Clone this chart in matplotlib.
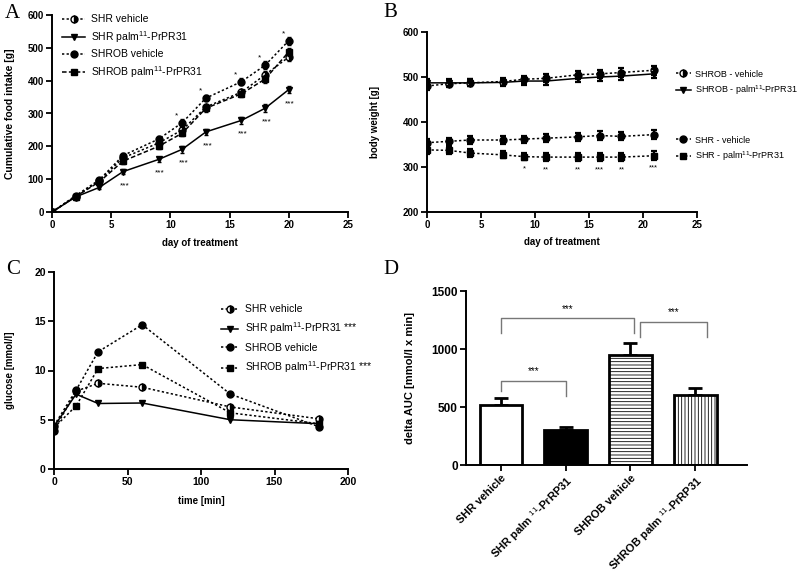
import matplotlib
matplotlib.use("Agg")
import matplotlib.pyplot as plt

plt.rcParams['font.family'] = ['Liberation Sans', 'DejaVu Sans']
plt.rcParams['mathtext.fontset'] = 'custom'
plt.rcParams['mathtext.rm'] = 'Liberation Sans'
plt.rcParams['mathtext.it'] = 'Liberation Sans'
plt.rcParams['hatch.linewidth'] = 0.6

# ---- data ----
# A: cumulative food intake
days_a = [0, 2, 4, 6, 9, 11, 13, 16, 18, 20]
shr_veh_a = [0, 47, 95, 165, 210, 250, 320, 365, 418, 472]
shr_palm_a = [0, 46, 75, 123, 160, 191, 244, 279, 316, 373]
shrob_veh_a = [0, 50, 98, 172, 222, 272, 347, 397, 447, 522]
shrob_palm_a = [0, 47, 92, 155, 200, 240, 316, 360, 405, 488]
err_a = [0, 4, 6, 8, 8, 10, 10, 10, 12, 12]
star_days_a = [11, 13, 16, 18, 20]

# B: body weight
days_b = [0, 2, 4, 7, 9, 11, 14, 16, 18, 21]
shrob_veh_b = [480, 485, 487, 490, 495, 497, 505, 507, 510, 515]
shrob_palm_b = [487, 487, 487, 488, 491, 491, 497, 500, 502, 507]
shr_veh_b = [354, 357, 360, 360, 362, 364, 367, 370, 368, 372]
shr_palm_b = [338, 337, 331, 327, 323, 322, 322, 322, 322, 325]
err_b = [8, 8, 8, 8, 8, 9, 9, 9, 9, 10]
star_days_b = [9, 11, 14, 16, 18, 21]
star_txt_b = ["*", "**", "**", "***", "**", "***"]

# C: glucose tolerance
time_c = [0, 15, 30, 60, 120, 180]
shr_veh_c = [3.9, 7.9, 8.7, 8.3, 6.3, 5.1]
shr_palm_c = [4.3, 7.6, 6.65, 6.7, 5.0, 4.6]
shrob_veh_c = [4.4, 8.0, 11.9, 14.65, 7.6, 4.3]
shrob_palm_c = [4.2, 6.4, 10.2, 10.6, 5.7, 4.6]

# D: delta AUC
groups_d = ["SHR vehicle", "SHR palm $^{11}$-PrRP31",
            "SHROB vehicle", "SHROB palm $^{11}$-PrRP31"]
auc_d = [513, 298, 949, 605]
auc_err_d = [63, 29, 103, 57]
# brackets: x1, x2, top, left drop, right drop
brackets_d = [(0, 1, 725, 634, 591),
              (0, 2.06, 1265, 1141, 1136),
              (2.15, 3.18, 1236, 1107, 1107)]

W, H = 800, 576
fig = plt.figure(figsize=(8, 5.76), dpi=100)


def px_axes(l, t, r, b):
    return fig.add_axes([l / W, 1 - b / H, (r - l) / W, (b - t) / H])


def style(ax, fs):
    for s in ['top', 'right']:
        ax.spines[s].set_visible(False)
    for s in ['left', 'bottom']:
        ax.spines[s].set_linewidth(1.4)
    ax.tick_params(width=1.3, length=4, labelsize=fs, pad=2)
    for lab in ax.get_xticklabels() + ax.get_yticklabels():
        lab.set_fontweight('bold')


DOT = (0, (1.5, 1.5))
DASH = (0, (3, 1.5))
half = dict(marker='o', fillstyle='right', markerfacecoloralt='white',
            markerfacecolor='black', markeredgecolor='black')

# ---------------- A ----------------
axA = px_axes(52, 15, 348, 212)
kw = dict(color='black', lw=1.1, ms=5)
ekw = dict(fmt='none', ecolor='black', capsize=1.5, elinewidth=1)
series_a = [(shr_veh_a, dict(ls=DOT, **half), 'SHR vehicle'),
            (shr_palm_a, dict(ls='-', marker='v'), 'SHR palm$^{11}$-PrPR31'),
            (shrob_veh_a, dict(ls=DOT, marker='o'), 'SHROB vehicle'),
            (shrob_palm_a, dict(ls=DASH, marker='s'), 'SHROB palm$^{11}$-PrPR31')]
for vals, st, lab in series_a:
    axA.errorbar(days_a, vals, yerr=err_a, **ekw)
    axA.plot(days_a, vals, label=lab, **st, **kw)
for d, v in zip(days_a, shrob_veh_a):
    if d in star_days_a:
        axA.annotate('*', (d, v), xytext=(-4, 5), textcoords='offset points',
                     ha='center', va='center', fontsize=6)
for d, v in zip(days_a, shr_palm_a):
    if d >= 6:
        axA.annotate('***', (d, v), xytext=(1, -10), textcoords='offset points',
                     ha='center', va='center', fontsize=6)
axA.set_xlim(0, 25)
axA.set_ylim(0, 600)
axA.set_xticks([0, 5, 10, 15, 20, 25])
axA.set_yticks(range(0, 601, 100))
style(axA, 7)
axA.set_xlabel('day of treatment', fontsize=7, fontweight='bold')
axA.set_ylabel('Cumulative food intake [g]', fontsize=7.5, fontweight='bold')
axA.xaxis.set_label_coords(0.5, -0.13)
axA.yaxis.set_label_coords(-0.125, 0.5)
axA.legend(loc='upper left', bbox_to_anchor=(57 / W, 1 - 9 / H),
           bbox_transform=fig.transFigure, frameon=False, fontsize=7.5,
           handlelength=2.2, handletextpad=0.6, labelspacing=0.45, borderpad=0)

# ---------------- B ----------------
axB = px_axes(427, 32, 697, 212)
ekw = dict(fmt='none', ecolor='black', capsize=2.5, elinewidth=1.6, capthick=1.6)
series_b = [(shrob_veh_b, dict(ls=DOT, **half)),
            (shrob_palm_b, dict(ls='-', marker='v')),
            (shr_veh_b, dict(ls=DOT, marker='o')),
            (shr_palm_b, dict(ls=DOT, marker='s'))]
hB = []
for vals, st in series_b:
    axB.errorbar(days_b, vals, yerr=err_b, **ekw)
    hB += axB.plot(days_b, vals, **st, **kw)
for d, s in zip(star_days_b, star_txt_b):
    v = shr_palm_b[days_b.index(d)]
    axB.annotate(s, (d, v), xytext=(0, -9), textcoords='offset points',
                 ha='center', va='center', fontsize=5.5)
axB.set_xlim(0, 25)
axB.set_ylim(200, 600)
axB.set_xticks([0, 5, 10, 15, 20, 25])
axB.set_yticks(range(200, 601, 100))
style(axB, 7)
axB.set_xlabel('day of treatment', fontsize=7, fontweight='bold')
axB.set_ylabel('body weight [g]', fontsize=7, fontweight='bold')
axB.xaxis.set_label_coords(0.5, -0.14)
axB.yaxis.set_label_coords(-0.174, 0.5)
lkw = dict(bbox_transform=fig.transFigure, frameon=False, fontsize=6.5,
           handlelength=1.7, handletextpad=0.45, labelspacing=0.55, borderpad=0)
legB1 = axB.legend(hB[:2], ['SHROB - vehicle', 'SHROB - palm$^{11}$-PrPR31'],
                   loc='upper left', bbox_to_anchor=(671 / W, 1 - 65 / H), **lkw)
axB.add_artist(legB1)
axB.legend(hB[2:], ['SHR - vehicle', 'SHR - palm$^{11}$-PrPR31'],
           loc='upper left', bbox_to_anchor=(671 / W, 1 - 131 / H), **lkw)

# ---------------- C ----------------
axC = px_axes(54, 272, 348, 469)
axC.plot(time_c, shr_veh_c, ls=DOT, label='SHR vehicle', **half, **kw)
axC.plot(time_c, shr_palm_c, ls='-', marker='v', label='SHR palm$^{11}$-PrPR31 ***', **kw)
axC.plot(time_c, shrob_veh_c, ls=DOT, marker='o', label='SHROB vehicle', **kw)
axC.plot(time_c, shrob_palm_c, ls=DOT, marker='s', label='SHROB palm$^{11}$-PrPR31 ***', **kw)
axC.set_xlim(0, 200)
axC.set_ylim(0, 20)
axC.set_xticks([0, 50, 100, 150, 200])
axC.set_yticks([0, 5, 10, 15, 20])
style(axC, 7.5)
axC.set_xlabel('time [min]', fontsize=7, fontweight='bold')
axC.set_ylabel('glucose [mmol/l]', fontsize=7, fontweight='bold')
axC.xaxis.set_label_coords(0.5, -0.135)
axC.yaxis.set_label_coords(-0.133, 0.5)
axC.legend(loc='upper left', bbox_to_anchor=(216 / W, 1 - 299 / H),
           bbox_transform=fig.transFigure, frameon=False, fontsize=7.5,
           handlelength=1.6, handletextpad=0.7, labelspacing=0.62, borderpad=0)

# ---------------- D ----------------
axD = px_axes(466, 291, 747, 465)
xpos = range(len(auc_d))
faces = ['white', 'black', 'white', 'white']
hatches = [None, None, '-----', '|||||']
bars = axD.bar(xpos, auc_d, width=0.66, color=faces, edgecolor='black',
               linewidth=2, zorder=2)
for b, h in zip(bars, hatches):
    if h:
        b.set_hatch(h)
axD.errorbar(xpos, auc_d, yerr=[[0] * len(auc_err_d), auc_err_d], fmt='none',
             ecolor='black', elinewidth=2, capsize=5, capthick=2, zorder=1)
for x1, x2, top, d1, d2 in brackets_d:
    axD.plot([x1, x1, x2, x2], [d1, top, top, d2], color='#777777', lw=1)
    axD.text((x1 + x2) / 2, top + 40, '***', ha='center', va='bottom', fontsize=7)
axD.set_xlim(-0.54, 3.8)
axD.set_ylim(0, 1500)
axD.set_yticks([0, 500, 1000, 1500])
axD.set_xticks(list(xpos))
axD.set_xticklabels(groups_d, rotation=45, ha='right', rotation_mode='anchor')
style(axD, 8.5)
for lab in axD.get_xticklabels():
    lab.set_fontsize(8)
axD.set_ylabel('delta AUC [mmol/l x min]', fontsize=8, fontweight='bold')
axD.yaxis.set_label_coords(-0.18, 0.5)

# panel letters
for letter, x, y in [('A', 5, 4), ('B', 383, 3), ('C', 6, 260), ('D', 383, 260)]:
    fig.text(x / W, 1 - y / H, letter, family='Liberation Serif', fontsize=15,
             ha='left', va='top')

fig.savefig('out.png', dpi=100)
